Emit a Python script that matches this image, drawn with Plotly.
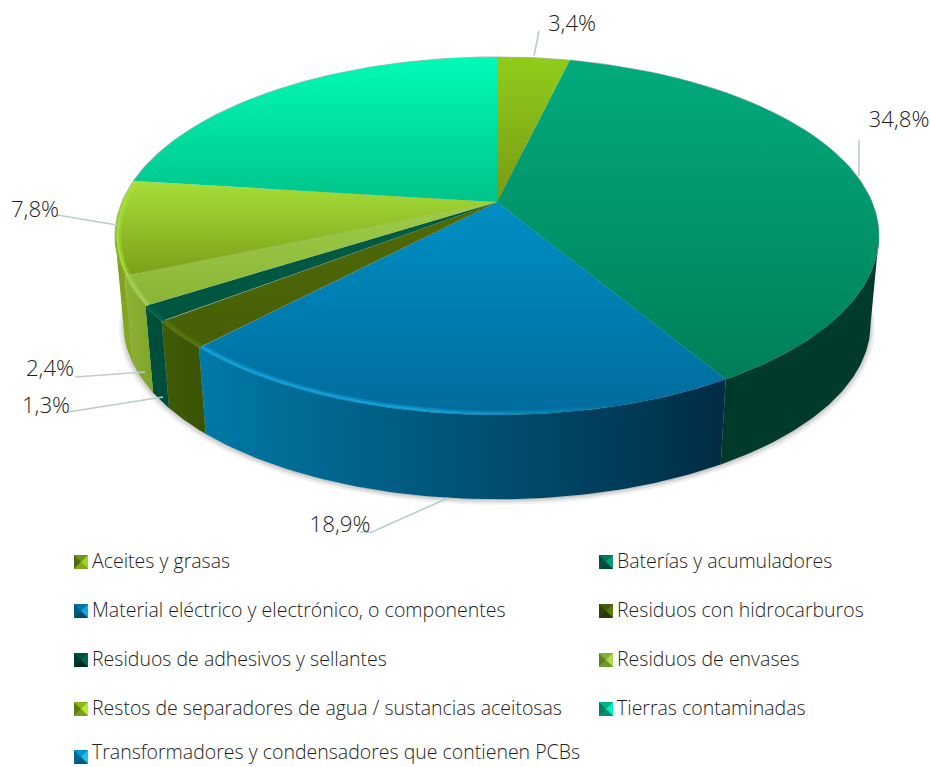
import numpy as np
import plotly.graph_objects as go

# Waste categories and their shares (%) in drawing order, clockwise from the top
names = [
    "Aceites y grasas",
    "Baterías y acumuladores",
    "Material eléctrico y electrónico, o componentes",
    "Residuos con hidrocarburos",
    "Residuos de adhesivos y sellantes",
    "Residuos de envases",
    "Restos de separadores de agua / sustancias aceitosas",
    "Tierras contaminadas",
    "Transformadores y condensadores que contienen PCBs",
]
shares = [3.4, 34.8, 18.9, 2.3, 1.3, 2.4, 7.8, 21.2, 0.0]
label_text = ["3,4%", "34,8%", "18,9%", "1,3%", "2,4%", "7,8%"]
label_x = [572, 899, 340, 46, 50, 35]
label_y = [25, 121, 526, 407, 370, 211]
leader_x = [[539, 534], [859, 859], [360, 372, 448], [68, 163], [75, 145], [57, 117]]
leader_y = [[31, 56], [140, 176], [532, 532, 498], [412, 397], [377, 372], [215, 225]]

# Vertical gradient on each top face and horizontal gradient on each wall
top_hi = ["#90cc1a", "#02ab7d", "#008fc4", "#4f6a08", "#005c46", "#9fcc4c", "#a6de38", "#00fbb6", "#00a0d8"]
top_lo = ["#7a9a14", "#007f58", "#006c9c", "#465f06", "#00553f", "#8ab434", "#7c9f18", "#00c48c", "#006c9c"]
wall_l = ["#5a7a10", "#003a2b", "#007aa8", "#405c06", "#00503c", "#8cb434", "#7e9e1c", "#00805c", "#005070"]
wall_r = ["#5a7a10", "#003a2b", "#002c44", "#3a5205", "#004c38", "#7ea42c", "#86aa20", "#00805c", "#005070"]
rim = [None, None, (20, 164, 222), (92, 122, 12), (0, 102, 78), (168, 212, 88), (168, 224, 60), None, None]
swatch_mid = ["#6d9614", "#007a5a", "#0078a8", "#445c06", "#005040", "#88ad30", "#8cb41c", "#00b088", "#0098cc"]
swatch_faces = {
    "left": ["#4f6a0e", "#00503f", "#005a80", "#2e4204", "#003a2c", "#5f7f20", "#5f7f14", "#007f60", "#006a96"],
    "top": swatch_mid,
    "right": ["#9ad820", "#00a078", "#14a4de", "#5c7a0c", "#006a54", "#b0dc50", "#b4ec30", "#00f0b8", "#20c0f0"],
    "bottom": ["#80a818", "#004a38", "#004a6c", "#263804", "#002a20", "#6f9828", "#7c9c20", "#009070", "#005a80"],
}

# Projected disc geometry (pixels)
CX, CY = 497.0, 202.0
AX, BY, K = 375.0, 172.5, 0.19
DEPTH, BASE_SCALE = 89.0, 0.978
VISIBLE_FROM, VISIBLE_TO = 101.0, 259.0  # part of the rim that faces the viewer
legend_col_x = [74, 599]
legend_row_y = [562, 611, 660, 709, 757]
KEY_TEXT_MAX_Y = 754.5  # keeps the last row's descenders on the page
SWATCH = 14
FONT = "Open Sans"
INK = "#1e1e1e"


def project(deg, scale=1.0, drop=0.0):
    a = np.radians(np.asarray(deg, dtype=float))
    u, v = np.sin(a), -np.cos(a)
    w = 1 - K * v
    return CX + scale * AX * u / w, CY + drop + scale * BY * v / w


fig = go.Figure()

# Soft shadow around the base of the disc
circle = np.linspace(0, 360, 361)
for grow, dy, alpha in [(1.012, 3, 0.08), (1.006, 2, 0.12), (1.0, 1, 0.18)]:
    x, y = project(circle, BASE_SCALE * grow, DEPTH + dy)
    fig.add_trace(go.Scatter(x=x, y=y, mode="lines", line_width=0, fill="toself",
                             fillcolor=f"rgba(60,60,60,{alpha})", hoverinfo="skip"))
x, y = project(circle)
fig.add_trace(go.Scatter(x=x, y=y, mode="lines", line=dict(color="#b4b4b4", width=1.2), hoverinfo="skip"))

total = sum(shares)
edges = np.concatenate([[0], np.cumsum(shares)]) / total * 360

# Walls first, only along the part of the rim facing the viewer
for i, share in enumerate(shares):
    lo, hi = max(edges[i], VISIBLE_FROM), min(edges[i + 1], VISIBLE_TO)
    if share <= 0 or hi <= lo:
        continue
    arc = np.linspace(lo, hi, 90)
    xt, yt = project(arc)
    xb, yb = project(arc, BASE_SCALE, DEPTH)
    xs = np.concatenate([xt, xb[::-1]])
    ys = np.concatenate([yt, yb[::-1]])
    fig.add_trace(go.Scatter(
        x=xs, y=ys, mode="lines", line=dict(width=0), fill="toself", hoverinfo="skip",
        fillgradient=dict(type="horizontal", start=float(xs.min()), stop=float(xs.max()),
                          colorscale=[[0, wall_l[i]], [1, wall_r[i]]]),
    ))

# Top faces
for i, share in enumerate(shares):
    if share <= 0:
        continue
    arc = np.linspace(edges[i], edges[i + 1], 90)
    xt, yt = project(arc)
    xs = np.concatenate([[CX], xt, [CX]])
    ys = np.concatenate([[CY], yt, [CY]])
    fig.add_trace(go.Scatter(
        x=xs, y=ys, mode="lines", line=dict(width=0), fill="toself", hoverinfo="skip",
        fillgradient=dict(type="vertical", start=float(ys.min()), stop=float(ys.max()),
                          colorscale=[[0, top_hi[i]], [1, top_lo[i]]]),
    ))

# Bevel highlight along the front edge, fading out towards the right
for i, share in enumerate(shares):
    if share <= 0 or rim[i] is None:
        continue
    lo, hi = max(edges[i], VISIBLE_FROM + 60), min(edges[i + 1], VISIBLE_TO + 30)
    if hi <= lo:
        continue
    steps = np.linspace(lo, hi, 25)
    for a0, a1 in zip(steps[:-1], steps[1:]):
        seg = np.linspace(a0, a1, 4)
        fade = np.clip(((a0 + a1) / 2 - 165) / 25, 0, 1)
        r, g, b = rim[i]
        for scale, width, alpha in [(0.990, 4.5, 0.45), (0.993, 2.2, 0.85)]:
            xr, yr = project(seg, scale)
            fig.add_trace(go.Scatter(x=xr, y=yr, mode="lines", hoverinfo="skip",
                                     line=dict(color=f"rgba({r},{g},{b},{alpha * fade:.3f})", width=width)))

# Value labels with their leader lines
for lx, ly in zip(leader_x, leader_y):
    fig.add_trace(go.Scatter(x=lx, y=ly, mode="lines", hoverinfo="skip",
                             line=dict(color="#b8cfc8", width=1.6)))
fig.add_trace(go.Scatter(x=label_x, y=label_y, mode="text", text=label_text, hoverinfo="skip",
                         textposition="middle center",
                         textfont=dict(family=FONT, size=22.3, color=INK, weight=300)))

# Two-column key: bevelled swatches as four triangles, names as text
shapes = []
key_x, key_y = [], []
for i, name in enumerate(names):
    x0 = legend_col_x[i % 2]
    yc = legend_row_y[i // 2]
    x1, y0, y1 = x0 + SWATCH, yc - SWATCH / 2, yc + SWATCH / 2
    mx, my = x0 + SWATCH / 2, yc
    shapes.append(dict(type="rect", x0=x0, x1=x1, y0=y0, y1=y1, fillcolor=swatch_mid[i],
                       line_width=0, layer="above"))
    faces = {
        "left": f"M{x0},{y0}L{mx},{my}L{x0},{y1}Z",
        "top": f"M{x0},{y0}L{x1},{y0}L{mx},{my}Z",
        "right": f"M{x1},{y0}L{x1},{y1}L{mx},{my}Z",
        "bottom": f"M{x0},{y1}L{x1},{y1}L{mx},{my}Z",
    }
    for face, path in faces.items():
        shapes.append(dict(type="path", path=path, fillcolor=swatch_faces[face][i],
                           line_width=0, layer="above"))
    key_x.append(x1 + 4)
    key_y.append(min(yc + 1.5, KEY_TEXT_MAX_Y))
fig.add_trace(go.Scatter(x=key_x, y=key_y, mode="text", text=names, hoverinfo="skip",
                         textposition="middle right",
                         textfont=dict(family=FONT, size=19.5, color=INK, weight=300)))

fig.update_layout(
    width=930, height=767, margin=dict(l=0, r=0, t=0, b=0),
    paper_bgcolor="white", plot_bgcolor="white", showlegend=False, shapes=shapes,
    xaxis=dict(range=[0, 930], visible=False, fixedrange=True),
    yaxis=dict(range=[767, 0], visible=False, fixedrange=True),
)
fig.write_html("out.html")
